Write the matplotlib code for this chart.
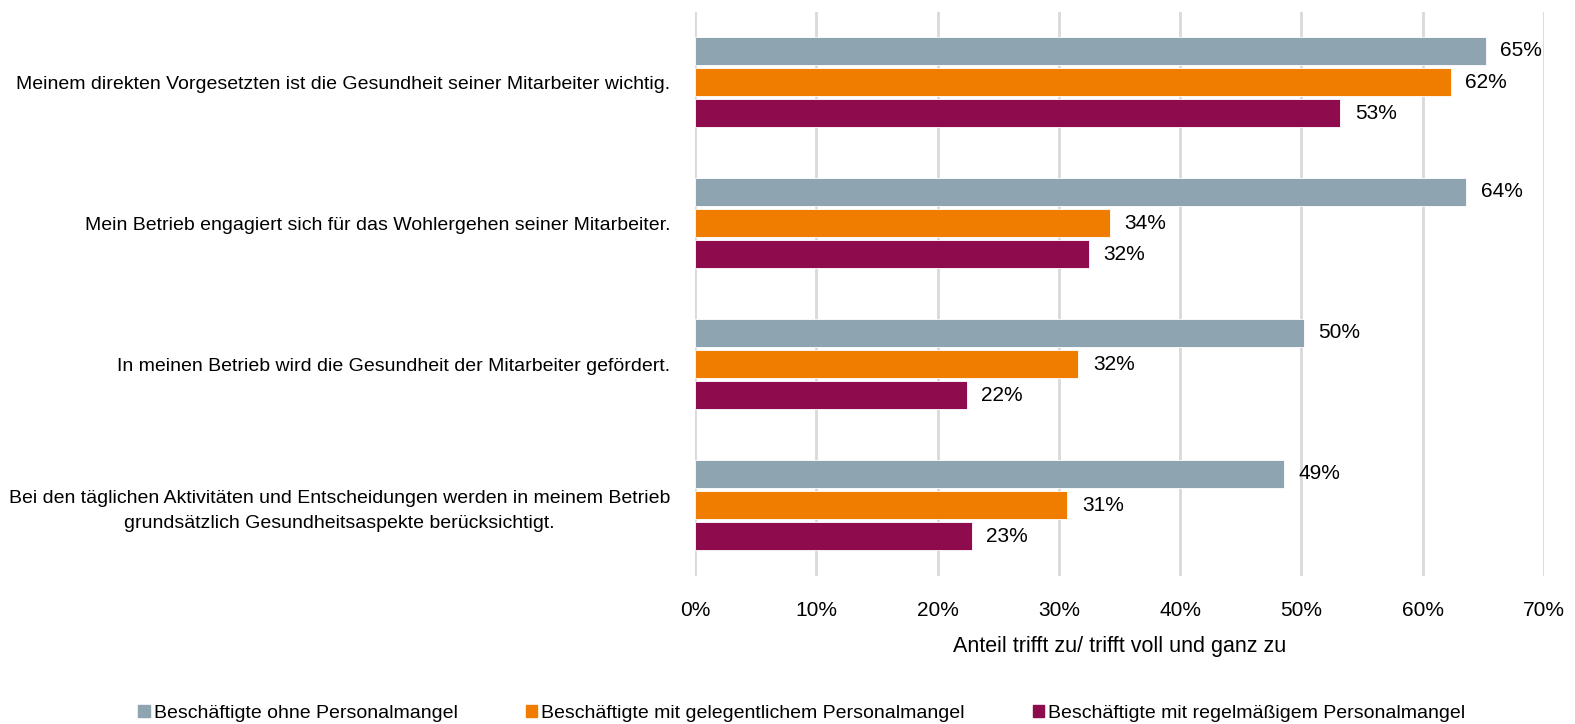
import numpy as np
import matplotlib
matplotlib.use("Agg")
import matplotlib.pyplot as plt
from matplotlib.patches import Patch

plt.rcParams['font.family'] = ['Liberation Sans', 'DejaVu Sans']

# Daten
kategorien = [
    "Meinem direkten Vorgesetzten ist die Gesundheit seiner Mitarbeiter wichtig.",
    "Mein Betrieb engagiert sich für das Wohlergehen seiner Mitarbeiter.",
    "In meinen Betrieb wird die Gesundheit der Mitarbeiter gefördert.",
    "Bei den täglichen Aktivitäten und Entscheidungen werden in meinem Betrieb\ngrundsätzlich Gesundheitsaspekte berücksichtigt.",
]
ohne = [65.2, 63.6, 50.2, 48.6]
gelegentlich = [62.3, 34.2, 31.6, 30.7]
regelmaessig = [53.2, 32.5, 22.4, 22.8]
labels_ohne = ["65%", "64%", "50%", "49%"]
labels_gel = ["62%", "34%", "32%", "31%"]
labels_reg = ["53%", "32%", "22%", "23%"]
serien = ["Beschäftigte ohne Personalmangel",
          "Beschäftigte mit gelegentlichem Personalmangel",
          "Beschäftigte mit regelmäßigem Personalmangel"]
farben = ["#8EA4B0", "#F07D00", "#8E0C4E"]
xticks = [0, 10, 20, 30, 40, 50, 60, 70]

fig = plt.figure(figsize=(15.75, 7.24), dpi=100)
ax = fig.add_axes([0.4413, 0.2051, 0.5390, 0.7790])

y = np.arange(len(kategorien))
h = 0.2
step = 0.22
fs = 14

for i, (werte, lab) in enumerate(zip([ohne, gelegentlich, regelmaessig],
                                     [labels_ohne, labels_gel, labels_reg])):
    pos = y + (i - 1) * step
    ax.barh(pos, werte, height=h, color=farben[i], edgecolor="white",
            linewidth=0.6, zorder=3)
    for p, w, t in zip(pos, werte, lab):
        ax.text(w + 1.2, p, t, va="center", ha="left", fontsize=15, color="black")

ax.set_ylim(len(kategorien) - 0.5, -0.5)
ax.set_xlim(0, 70)
ax.set_yticks(y)
ax.set_yticklabels(kategorien, fontsize=fs, ha="right", multialignment="center",
                   linespacing=1.6)
ax.set_xticks(xticks)
ax.set_xticklabels([f"{v}%" for v in xticks], fontsize=15)
ax.tick_params(axis="both", length=0)
ax.tick_params(axis="y", pad=18)
ax.tick_params(axis="x", pad=18)
ax.xaxis.grid(True, color="#D9D9D9", linewidth=2, zorder=0)
for s in ax.spines.values():
    s.set_visible(False)
ax.set_xlabel("Anteil trifft zu/ trifft voll und ganz zu", fontsize=15.5, labelpad=12)

handles = [Patch(color=c) for c in farben]
fig.legend(handles, serien, loc="center", bbox_to_anchor=(0.509, 0.015), ncol=3,
           frameon=False, fontsize=fs, handlelength=0.6, handleheight=0.6,
           handletextpad=0.2, columnspacing=3.5)

plt.savefig("out.png", dpi=100)
